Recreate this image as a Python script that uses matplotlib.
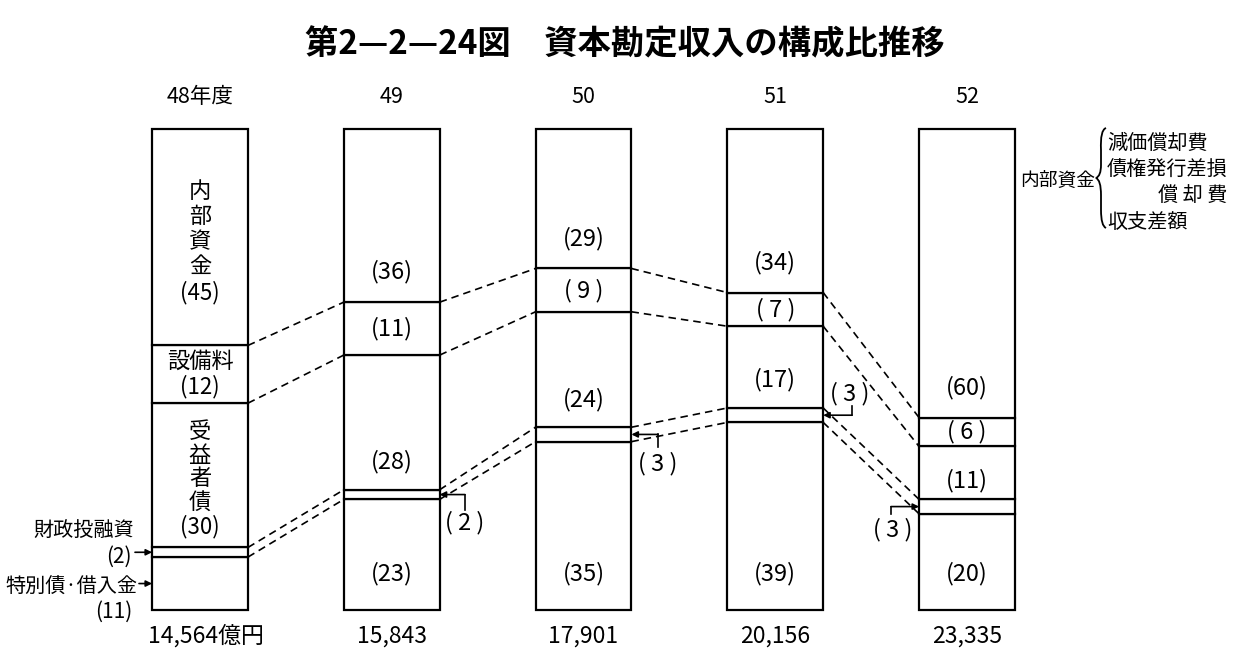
import matplotlib
matplotlib.use("Agg")
import matplotlib.pyplot as plt
from matplotlib.path import Path
from matplotlib.patches import PathPatch
import numpy as np

plt.rcParams['font.family'] = ['Noto Sans CJK JP', 'DejaVu Sans']

# ---------------- data ----------------
years = ['48年度', '49', '50', '51', '52']
totals = ['14,564億円', '15,843', '17,901', '20,156', '23,335']
# stacked from bottom to top (percent)
special = [11, 23, 35, 39, 20]      # 特別債・借入金
fiscal = [2, 2, 3, 3, 3]            # 財政投融資
beneficiary = [30, 28, 24, 17, 11]  # 受益者債
facility = [12, 11, 9, 7, 6]        # 設備料
internal = [45, 36, 29, 34, 60]     # 内部資金

title = '第2—2—24図　資本勘定収入の構成比推移'

# ---------------- figure ----------------
fig = plt.figure(figsize=(12.33, 6.59), dpi=100)
ax = fig.add_axes([0, 0, 1, 1])
ax.set_xlim(-200 / 191.75, 1033 / 191.75)
ax.set_ylim((610 - 659) / 4.81, 610 / 4.81)
ax.axis('off')

x = np.arange(len(years))
W = 0.5
segments = [special, fiscal, beneficiary, facility, internal]
bottoms = np.zeros(len(years))
bounds = []
for seg in segments:
    ax.bar(x, seg, bottom=bottoms, width=W, facecolor='white',
           edgecolor='black', linewidth=1.6, zorder=2)
    bottoms = bottoms + np.array(seg)
    bounds.append(bottoms.copy())

# dashed connectors at inner boundaries
for k in range(4):
    b = bounds[k]
    for i in range(len(years) - 1):
        ax.plot([x[i] + W / 2, x[i + 1] - W / 2], [b[i], b[i + 1]],
                color='black', lw=1.2, dashes=(4.5, 3), zorder=1)

FS = 17
b_special = np.array(special)
b_fiscal = b_special + np.array(fiscal)
b_benef = b_fiscal + np.array(beneficiary)
b_fac = b_benef + np.array(facility)


def plab(v):
    return '( %d )' % v if v < 10 else '(%d)' % v


for i in range(1, len(years)):
    ax.text(x[i], b_fac[i] + 6.3, plab(internal[i]), ha='center', va='center', fontsize=FS, zorder=3)
    ax.text(x[i], b_benef[i] + facility[i] / 2, plab(facility[i]), ha='center', va='center', fontsize=FS, zorder=3)
    yb = min(b_fiscal[i] + 5.8, b_fiscal[i] + beneficiary[i] / 2 - 1.5)
    ax.text(x[i], yb, plab(beneficiary[i]), ha='center', va='center', fontsize=FS, zorder=3)
    ax.text(x[i], 7.5, plab(special[i]), ha='center', va='center', fontsize=FS, zorder=3)

# bar 1 labels
ax.text(x[0], 76.5, '内\n部\n資\n金\n(%d)' % internal[0], ha='center', va='center',
        fontsize=16, linespacing=1.12, zorder=3)
ax.text(x[0], 49.0, '設備料\n(%d)' % facility[0], ha='center', va='center',
        fontsize=16, linespacing=1.12, zorder=3)
ax.text(x[0], 27.2, '受\n益\n者\n債\n(%d)' % beneficiary[0], ha='center', va='center',
        fontsize=16, linespacing=1.03, zorder=3)

# left side labels of bar 1
px = lambda p: (p - 200) / 191.75
py = lambda p: (610 - p) / 4.81
ax.text(px(134), py(530), '財政投融資', ha='right', va='center', fontsize=14.5)
ax.text(px(132), py(557), '(%d)' % fiscal[0], ha='right', va='center', fontsize=15)
ax.text(px(137), py(587), '特別債\u00b7借入金', ha='right', va='center', fontsize=14.5)
ax.text(px(132), py(612), '(%d)' % special[0], ha='right', va='center', fontsize=15)
arrow = dict(arrowstyle='-|>', lw=1.2, color='black', mutation_scale=9, shrinkA=0, shrinkB=0)
ax.annotate('', xy=(x[0] - W / 2, b_special[0] + fiscal[0] / 2), xytext=(px(135), b_special[0] + fiscal[0] / 2),
            arrowprops=arrow)
ax.annotate('', xy=(x[0] - W / 2, special[0] / 2), xytext=(px(139), special[0] / 2),
            arrowprops=arrow)


# bracketed small labels
def bracket(i, side, ex, ey, lx, ly):
    ym = b_special[i] + fiscal[i] / 2
    edge = x[i] + side * W / 2
    ax.annotate('', xy=(edge, ym), xytext=(px(ex), ym), arrowprops=arrow)
    ax.plot([px(ex), px(ex)], [ym, py(ey)], color='black', lw=1.2)
    ax.text(px(lx), py(ly), plab(fiscal[i]), ha='center', va='center', fontsize=FS)


bracket(1, +1, 465, 510, 465, 523)
bracket(2, +1, 658, 447, 658, 464)
bracket(3, +1, 852, 406, 850, 394)
bracket(4, -1, 891, 514, 893, 530)

# top/bottom labels
for i in range(len(years)):
    ax.text(x[i], py(97), years[i], ha='center', va='center', fontsize=15.5)
    ax.text(x[i] + (0.03 if i == 0 else 0), py(636), totals[i], ha='center', va='center', fontsize=16.5)

# right annotation
ax.text(px(1020), py(180), '内部資金', ha='left', va='center', fontsize=13.5)
ax.text(px(1107), py(143), '減価償却費', ha='left', va='center', fontsize=14.5)
ax.text(px(1107), py(170), '債権発行差損', ha='left', va='center', fontsize=14.5)
ax.text(px(1227), py(196), '償 却 費', ha='right', va='center', fontsize=14.5)
ax.text(px(1107), py(222), '収支差額', ha='left', va='center', fontsize=14.5)
verts = [(px(1106), py(128)), (px(1100), py(130)), (px(1101), py(150)),
         (px(1101), py(165)), (px(1101), py(176)), (px(1096), py(178)),
         (px(1101), py(180)), (px(1101), py(195)), (px(1101), py(210)),
         (px(1101), py(226)), (px(1106), py(228))]
codes = [Path.MOVETO, Path.CURVE3, Path.CURVE3, Path.LINETO, Path.CURVE3, Path.CURVE3,
         Path.CURVE3, Path.CURVE3, Path.LINETO, Path.CURVE3, Path.CURVE3]
ax.add_patch(PathPatch(Path(verts, codes), fill=False, lw=1.3, edgecolor='black'))

fig.text(625 / 1233, 1 - 45 / 659, title, ha='center', va='center', fontsize=24, fontweight='bold')

fig.savefig('out.png', dpi=100, facecolor='white')
